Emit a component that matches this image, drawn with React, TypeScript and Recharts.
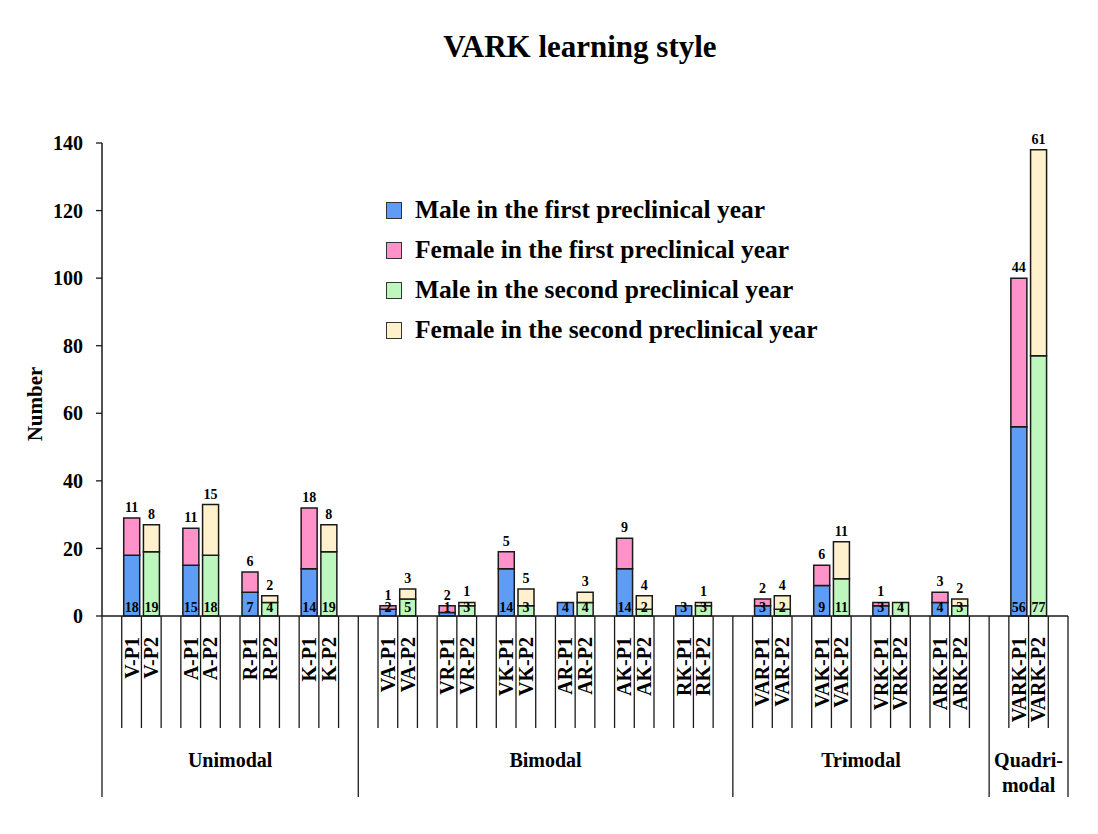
import { Bar, BarChart, LabelList, Legend, XAxis, YAxis } from 'recharts';

const FONT = "'Liberation Serif', 'Times New Roman', serif";

// learning-style codes, in plot order
const styleCodes = ['V', 'A', 'R', 'K', 'VA', 'VR', 'VK', 'AR', 'AK', 'RK', 'VAR', 'VAK', 'VRK', 'ARK', 'VARK'];
const groupNames = ['Unimodal', 'Bimodal', 'Trimodal', 'Quadri-modal'];
const groupSizes = [4, 6, 4, 1];

const maleP1 = [18, 15, 7, 14, 2, 1, 14, 4, 14, 3, 3, 9, 3, 4, 56];
const femaleP1 = [11, 11, 6, 18, 1, 2, 5, 0, 9, 0, 2, 6, 1, 3, 44];
const maleP2 = [19, 18, 4, 19, 5, 3, 3, 4, 2, 3, 2, 11, 4, 3, 77];
const femaleP2 = [8, 15, 2, 8, 3, 1, 5, 3, 4, 1, 4, 11, 0, 2, 61];

const yTicks = [0, 20, 40, 60, 80, 100, 120, 140];

const COLORS = {
  maleP1: '#5e9cf5',
  femaleP1: '#ff93c9',
  maleP2: '#bdf7bd',
  femaleP2: '#fff1cc',
};

const SERIES = [
  { key: 'maleP1', name: 'Male in the first preclinical year' },
  { key: 'femaleP1', name: 'Female in the first preclinical year' },
  { key: 'maleP2', name: 'Male in the second preclinical year' },
  { key: 'femaleP2', name: 'Female in the second preclinical year' },
];

type Row = {
  key: string;
  index: number;
  label: string;
  group: number;
  groupStart: boolean;
  groupEnd: boolean;
  maleP1: number | null;
  femaleP1: number | null;
  maleP2: number | null;
  femaleP2: number | null;
};

// one slot per bar, plus an empty slot before each group and after every pair
const rows: Row[] = [];
function pushRow(label: string, group: number, vals: Partial<Row> = {}, start = false, end = false) {
  const index = rows.length;
  rows.push({
    key: `s${index}`,
    index,
    label,
    group,
    groupStart: start,
    groupEnd: end,
    maleP1: null,
    femaleP1: null,
    maleP2: null,
    femaleP2: null,
    ...vals,
  });
}
let si = 0;
groupSizes.forEach((size, g) => {
  pushRow('', g, {}, true);
  for (let k = 0; k < size; k++, si++) {
    const code = styleCodes[si];
    pushRow(`${code}-P1`, g, { maleP1: maleP1[si], femaleP1: femaleP1[si] });
    pushRow(`${code}-P2`, g, { maleP2: maleP2[si], femaleP2: femaleP2[si] });
    pushRow('', g, {}, false, k === size - 1);
  }
});
const rowByKey: Record<string, Row> = Object.fromEntries(rows.map((r) => [r.key, r]));
const groupSlots = groupSizes.map((s) => 1 + s * 3);

const WIDTH = 1082;
const HEIGHT = 818;
const MARGIN = { top: 135, right: 22, bottom: 20, left: 34 };
const Y_AXIS_W = 60;
const PLOT_W = WIDTH - MARGIN.left - MARGIN.right - Y_AXIS_W;
const SLOT_W = PLOT_W / rows.length;

function SlotTick(props: any) {
  const { x, y, payload } = props;
  const row = rowByKey[payload.value];
  if (!row) return null;
  const left = x - SLOT_W / 2;
  const right = x + SLOT_W / 2;
  const stroke = '#1a1a1a';
  const name = groupNames[row.group];
  const gx = left + (groupSlots[row.group] * SLOT_W) / 2;
  return (
    <g>
      {row.index === 0 && <line x1={left} x2={left} y1={y} y2={y + 181} stroke={stroke} strokeWidth={1.3} />}
      <line x1={right} x2={right} y1={y} y2={row.groupEnd ? y + 181 : y + 112} stroke={stroke} strokeWidth={1.3} />
      {row.label && (
        <text
          transform={`translate(${x + 7},${y + 21}) rotate(-90)`}
          textAnchor="end"
          fontFamily={FONT}
          fontWeight="bold"
          fontSize={20}
          fill="#000"
        >
          {row.label}
        </text>
      )}
      {row.groupStart &&
        (row.group === 3 ? (
          <text x={gx} y={y + 151} textAnchor="middle" fontFamily={FONT} fontWeight="bold" fontSize={20} fill="#000">
            <tspan x={gx}>Quadri-</tspan>
            <tspan x={gx} dy={25}>modal</tspan>
          </text>
        ) : (
          <text x={gx} y={y + 151} textAnchor="middle" fontFamily={FONT} fontWeight="bold" fontSize={20} fill="#000">
            {name}
          </text>
        ))}
    </g>
  );
}

function insideLabel(props: any) {
  const { x, y, width, height, value } = props;
  if (!value) return null;
  return (
    <text x={x + width / 2} y={y + height - 4} textAnchor="middle" fontFamily={FONT} fontWeight="bold" fontSize={14} fill="#000">
      {value}
    </text>
  );
}

function topLabel(props: any) {
  const { x, y, width, value } = props;
  if (!value) return null;
  return (
    <text x={x + width / 2} y={y - 6} textAnchor="middle" fontFamily={FONT} fontWeight="bold" fontSize={14} fill="#000">
      {value}
    </text>
  );
}

function LegendBox() {
  return (
    <div style={{ fontFamily: FONT, fontWeight: 'bold', fontSize: 25.5, color: '#000' }}>
      {SERIES.map((s) => (
        <div key={s.key} style={{ display: 'flex', alignItems: 'center', height: 40, whiteSpace: 'nowrap' }}>
          <span
            style={{
              display: 'inline-block',
              width: 14,
              height: 15,
              background: COLORS[s.key as keyof typeof COLORS],
              border: '1.5px solid #333',
              marginRight: 13,
            }}
          />
          {s.name}
        </div>
      ))}
    </div>
  );
}

export default function App() {
  return (
    <BarChart width={WIDTH} height={HEIGHT} data={rows} margin={MARGIN} barSize={16}>
      <text x={572} y={49} textAnchor="middle" fontFamily={FONT} fontWeight="bold" fontSize={31} fill="#000">
        VARK learning style
      </text>
      <XAxis
        dataKey="key"
        interval={0}
        tick={<SlotTick />}
        tickLine={false}
        tickSize={0}
        tickMargin={0}
        height={190}
        axisLine={{ stroke: '#1a1a1a', strokeWidth: 1.5 }}
      />
      <YAxis
        width={Y_AXIS_W}
        domain={[0, 140]}
        ticks={yTicks}
        interval={0}
        tickSize={6}
        tickMargin={13}
        axisLine={{ stroke: '#1a1a1a', strokeWidth: 1.5 }}
        tickLine={{ stroke: '#1a1a1a', strokeWidth: 1.3 }}
        tick={{ fontFamily: FONT, fontWeight: 'bold', fontSize: 20, fill: '#000' }}
        label={{
          content: () => (
            <text
              transform="translate(34,396) rotate(-90)"
              textAnchor="middle"
              fontFamily={FONT}
              fontWeight="bold"
              fontSize={21}
              fill="#000"
            >
              Number
            </text>
          ),
        }}
      />
      <Legend
        layout="vertical"
        align="center"
        verticalAlign="middle"
        content={<LegendBox />}
        wrapperStyle={{ left: 378, top: 182, width: 'auto' }}
      />
      {SERIES.map((s) => (
        <Bar
          key={s.key}
          dataKey={s.key}
          name={s.name}
          stackId="a"
          fill={COLORS[s.key as keyof typeof COLORS]}
          stroke="#1a1a1a"
          strokeWidth={1.5}
          isAnimationActive={false}
        >
          <LabelList dataKey={s.key} content={s.key.startsWith('male') ? insideLabel : topLabel} />
        </Bar>
      ))}
    </BarChart>
  );
}
